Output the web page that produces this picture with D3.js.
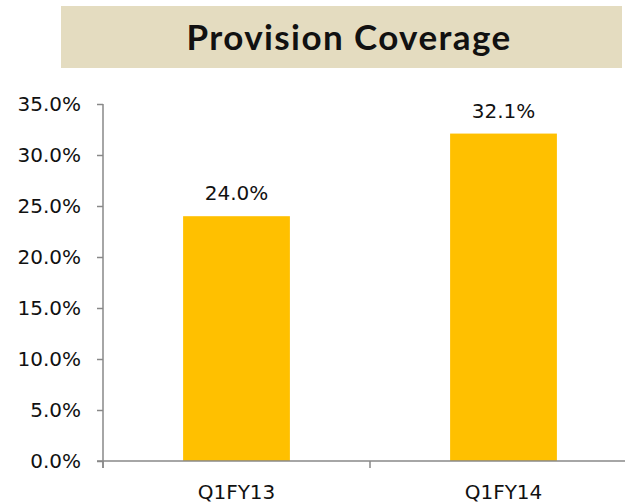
<html>
    <head>
        <style>
            body { margin: 0; }
            svg text { font-family: "DejaVu Sans", sans-serif; fill: #111; }
            .axis path, .axis line { stroke: #888; stroke-width: 1.5; fill: none; }
            .axis text { font-size: 20px; }
            .title { font-size: 35px; font-weight: bold; font-family: "Lato", sans-serif; letter-spacing: 1.4px; }
        </style>
    </head>
    <body>
        <svg class="chart" width="625" height="504"></svg>
        <script src="https://d3js.org/d3.v7.min.js"></script>
        <script>
            var categories = ["Q1FY13", "Q1FY14"];
            var coverage = [24.0, 32.1];
            var yTicks = [0, 5, 10, 15, 20, 25, 30, 35];

            var chart = d3.select('.chart');

            // title banner
            chart.append('rect')
                .attr('x', 61).attr('y', 6)
                .attr('width', 561).attr('height', 62)
                .attr('fill', '#E4DCC0');
            chart.append('text')
                .attr('class', 'title')
                .attr('x', 349).attr('y', 50)
                .attr('text-anchor', 'middle')
                .text('Provision Coverage');

            var x = d3.scaleBand()
                .domain(categories)
                .range([103, 637])
                .paddingInner(0.6)
                .paddingOuter(0.3);

            var y = d3.scaleLinear()
                .domain([0, 35])
                .range([461, 104]);

            chart.selectAll('.bar')
                .data(coverage)
                .enter()
                .append('rect')
                .attr('class', 'bar')
                .attr('x', function(d, i) { return x(categories[i]); })
                .attr('y', function(d) { return y(d); })
                .attr('width', x.bandwidth())
                .attr('height', function(d) { return y(0) - y(d); })
                .attr('fill', '#FFC000');

            chart.selectAll('.val')
                .data(coverage)
                .enter()
                .append('text')
                .attr('class', 'val')
                .attr('x', function(d, i) { return x(categories[i]) + x.bandwidth() / 2; })
                .attr('y', function(d) { return y(d) - 16; })
                .attr('text-anchor', 'middle')
                .style('font-size', '20px')
                .text(function(d) { return d.toFixed(1) + '%'; });

            var yAxis = chart.append('g')
                .attr('class', 'axis')
                .attr('transform', 'translate(103,0)')
                .call(d3.axisLeft(y).tickValues(yTicks).tickSize(6).tickPadding(16)
                    .tickFormat(function(d) { return d.toFixed(1) + '%'; }));
            yAxis.select('.domain').attr('d', 'M0,' + y(35) + 'V' + (y(0) + 7));

            // category axis: ticks sit between bands
            var xAxis = chart.append('g')
                .attr('class', 'axis')
                .attr('transform', 'translate(0,' + y(0) + ')');
            xAxis.append('line')
                .attr('x1', 97).attr('x2', 637)
                .attr('y1', 0).attr('y2', 0);
            xAxis.selectAll('.tk')
                .data([103, 103 + x.step(), 103 + 2 * x.step()])
                .enter()
                .append('line')
                .attr('x1', function(d) { return d; }).attr('x2', function(d) { return d; })
                .attr('y1', 0).attr('y2', 7);
            xAxis.selectAll('.lbl')
                .data(categories)
                .enter()
                .append('text')
                .attr('x', function(d) { return x(d) + x.bandwidth() / 2; })
                .attr('y', 38)
                .attr('text-anchor', 'middle')
                .text(function(d) { return d; });
        </script>
    </body>
</html>
